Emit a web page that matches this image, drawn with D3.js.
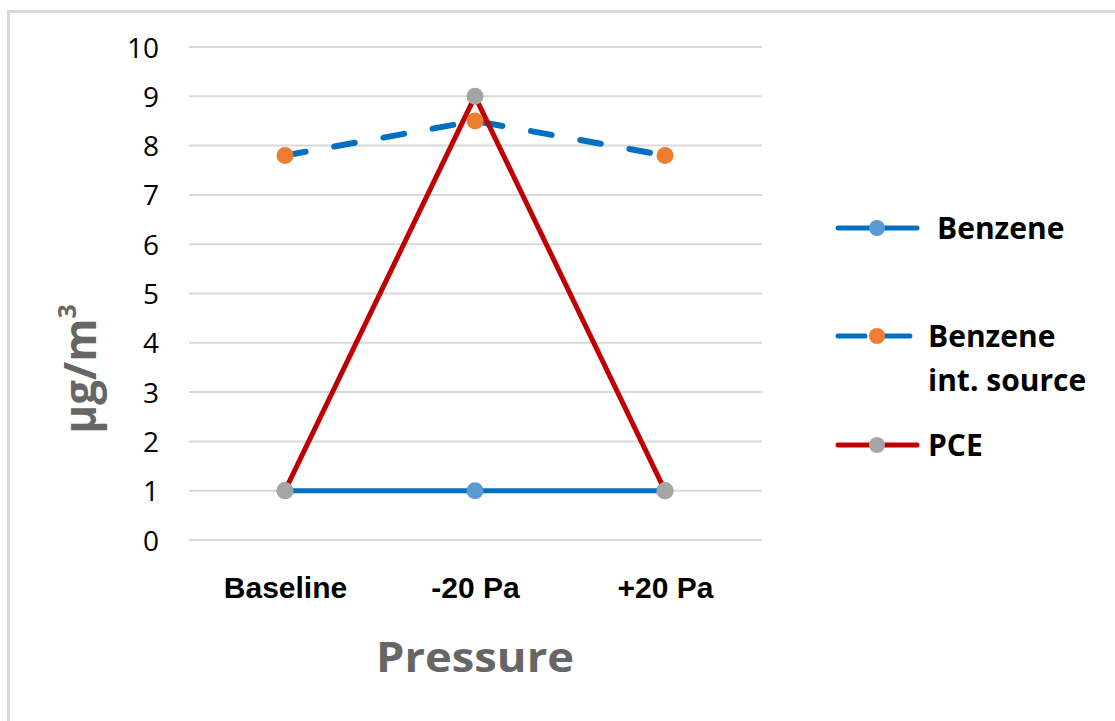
<!DOCTYPE html>
<html>
<head>
<meta charset="utf-8">
<script src="https://cdn.jsdelivr.net/npm/d3@7"></script>
<style>
  html, body { margin: 0; padding: 0; background: #fff; }
  svg { display: block; }
</style>
</head>
<body>
<svg id="chart" width="1115" height="721"></svg>
<script>
// Concentrations by pressure condition
const categories = ["Baseline", "-20 Pa", "+20 Pa"];
const benzene = [1, 1, 1];
const benzeneIntSource = [7.8, 8.5, 7.8];
const pce = [1, 9, 1];
const yTicks = [0, 1, 2, 3, 4, 5, 6, 7, 8, 9, 10];
const seriesNames = ["Benzene", "Benzene\nint. source", "PCE"];

const svg = d3.select("#chart");
const W = 1115, H = 721;

// Outer frame
svg.append("rect")
  .attr("x", 8.5).attr("y", 11.5)
  .attr("width", W + 10).attr("height", H + 10)
  .attr("fill", "#fff").attr("stroke", "#d9d9d9").attr("stroke-width", 3);

const plot = { left: 190, right: 760, top: 47, bottom: 540 };

const x = d3.scalePoint().domain(categories)
  .range([plot.left, plot.right]).padding(0.5);
const y = d3.scaleLinear().domain([0, 10]).range([plot.bottom, plot.top]);

// Gridlines
svg.append("g").selectAll("line").data(yTicks).join("line")
  .attr("x1", plot.left - 1).attr("x2", plot.right + 2)
  .attr("y1", d => y(d)).attr("y2", d => y(d))
  .attr("stroke", "#d9d9d9").attr("stroke-width", 2);

// Y axis tick labels
const yAxis = d3.axisLeft(y).tickValues(yTicks).tickSize(0).tickPadding(0);
const gy = svg.append("g").attr("transform", `translate(${plot.left - 31},0)`).call(yAxis);
gy.select(".domain").remove();
gy.selectAll("text")
  .attr("font-family", "'Open Sans', 'Noto Sans', sans-serif")
  .attr("font-size", 28).attr("fill", "#000").attr("dy", "0.36em");

// X axis tick labels
const xAxis = d3.axisBottom(x).tickSize(0).tickPadding(0);
const gx = svg.append("g").attr("transform", `translate(0,${plot.bottom + 58})`).call(xAxis);
gx.select(".domain").remove();
gx.selectAll("text")
  .attr("font-family", "'Liberation Sans', Arial, sans-serif")
  .attr("font-weight", "bold").attr("font-size", 30).attr("fill", "#000")
  .attr("dy", 0);

// Axis titles
svg.append("text")
  .attr("x", x("-20 Pa")).attr("y", 672)
  .attr("text-anchor", "middle")
  .attr("font-family", "'Open Sans', 'Noto Sans', sans-serif")
  .attr("font-weight", "bold").attr("font-size", 41).attr("fill", "#666")
  .attr("textLength", 198).attr("lengthAdjust", "spacingAndGlyphs")
  .text("Pressure");

const yt = svg.append("text")
  .attr("transform", `translate(96,369) rotate(-90)`)
  .attr("text-anchor", "middle")
  .attr("font-family", "'Open Sans', 'Noto Sans', sans-serif")
  .attr("font-weight", "bold").attr("font-size", 44).attr("fill", "#666");
yt.append("tspan").text("µg/m");
yt.append("tspan").attr("font-size", 25).attr("dy", -20).text("3");

// Series definitions
const series = [
  { name: seriesNames[0], values: benzene, line: "#0070c0", marker: "#5b9bd5", dash: null, width: 5 },
  { name: seriesNames[1], values: benzeneIntSource, line: "#0070c0", marker: "#ed7d31", dash: "21,29", width: 6 },
  { name: seriesNames[2], values: pce, line: "#c00000", marker: "#a5a5a5", dash: null, width: 5 }
];

const lineGen = d3.line().x((d, i) => x(categories[i])).y(d => y(d));

series.forEach(s => {
  svg.append("path")
    .datum(s.values)
    .attr("d", lineGen)
    .attr("fill", "none")
    .attr("stroke", s.line).attr("stroke-width", s.width)
    .attr("stroke-linecap", "round")
    .attr("stroke-dasharray", s.dash);
});
series.forEach(s => {
  svg.append("g").selectAll("circle").data(s.values).join("circle")
    .attr("cx", (d, i) => x(categories[i])).attr("cy", d => y(d))
    .attr("r", 8.5).attr("fill", s.marker);
});

// Legend
const legendY = [228, 336, 445];
const legendTextX = [937, 928, 928];
const legendBaseline = [239, 347, 456];
series.forEach((s, i) => {
  const g = svg.append("g");
  g.append("line")
    .attr("x1", 838).attr("x2", 917).attr("y1", legendY[i]).attr("y2", legendY[i])
    .attr("stroke", s.line).attr("stroke-width", 5).attr("stroke-linecap", "round")
    .attr("stroke-dasharray", s.dash ? "27,18" : null);
  g.append("circle").attr("cx", 877).attr("cy", legendY[i]).attr("r", 8).attr("fill", s.marker);
  const t = g.append("text")
    .attr("font-family", "'Open Sans', 'Noto Sans', sans-serif")
    .attr("font-weight", "bold").attr("font-size", 30).attr("fill", "#000");
  s.name.split("\n").forEach((ln, j) => {
    t.append("tspan").attr("x", legendTextX[i])
      .attr("y", legendBaseline[i] + j * 44).text(ln);
  });
});
</script>
</body>
</html>
